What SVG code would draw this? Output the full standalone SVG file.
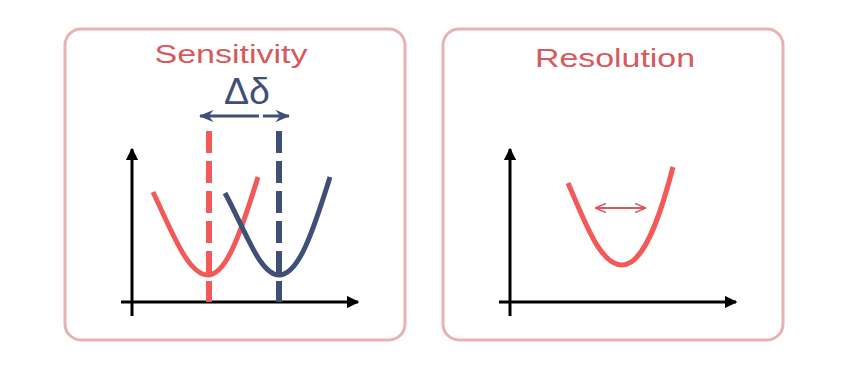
<svg xmlns="http://www.w3.org/2000/svg" width="850" height="371" viewBox="0 0 850 371">
<defs>
<style>
.box{fill:#fff;stroke:#e8b2b2;stroke-width:3}
.title{font-family:"Liberation Sans",Arial,sans-serif;font-size:26px;fill:#d9585c;text-anchor:middle}
.axis{stroke:#000;stroke-width:3;fill:none}
.red{stroke:#f25a5a;stroke-width:5;fill:none;stroke-linecap:butt}
.blue{stroke:#3f5076;stroke-width:5;fill:none}
.dash{stroke-width:6;stroke-dasharray:22 8;fill:none}
</style>
<marker id="ax" viewBox="0 0 10 10" refX="9" refY="5" markerWidth="4.2" markerHeight="4.2" orient="auto-start-reverse" markerUnits="strokeWidth">
<path d="M0,0 L10,5 L0,10 z" fill="#000"/>
</marker>
<marker id="bl" viewBox="0 0 12 10" refX="11" refY="5" markerWidth="5" markerHeight="4.2" orient="auto-start-reverse" markerUnits="strokeWidth">
<path d="M0,0 L12,5 L0,10 L4,5 z" fill="#3f5076"/>
</marker>
<marker id="rd" viewBox="0 0 12 10" refX="11" refY="5" markerWidth="5.5" markerHeight="5" orient="auto-start-reverse" markerUnits="strokeWidth">
<path d="M0,0 L12,5 L0,10" fill="none" stroke="#d9585c" stroke-width="1.6"/>
</marker>
</defs>
<rect width="850" height="371" fill="#fff"/>

<g id="sensitivity">
<rect class="box" x="65" y="29" width="340" height="311" rx="16"/>
<text class="title" x="231" y="63" textLength="153" lengthAdjust="spacingAndGlyphs">Sensitivity</text>
<text x="247" y="104" font-family="Liberation Sans,Arial,sans-serif" font-size="36" fill="#3f5076" text-anchor="middle" textLength="46" lengthAdjust="spacingAndGlyphs">Δδ</text>
<line x1="259" y1="116" x2="200" y2="116" stroke="#3f5076" stroke-width="3" marker-end="url(#bl)"/>
<line x1="263" y1="116" x2="289" y2="116" stroke="#3f5076" stroke-width="3" marker-end="url(#bl)"/>
<line class="axis" x1="132" y1="316" x2="132" y2="149" marker-end="url(#ax)"/>
<line class="axis" x1="121" y1="302" x2="358" y2="302" marker-end="url(#ax)"/>
<path class="red" d="M153,192 C172,232 188,275 208,275 C226,275 240,235 258,177"/>
<path class="blue" d="M225,193 C246,232 260,275 279,275 C298,275 312,235 330,177"/>
<line class="dash" x1="209" y1="131" x2="209" y2="302" stroke="#f25a5a"/>
<line class="dash" x1="279" y1="131" x2="279" y2="302" stroke="#3f5076"/>
</g>

<g id="resolution">
<rect class="box" x="443" y="29" width="340" height="311" rx="16"/>
<text class="title" x="615" y="67" textLength="160" lengthAdjust="spacingAndGlyphs">Resolution</text>
<line class="axis" x1="510" y1="316" x2="510" y2="149" marker-end="url(#ax)"/>
<line class="axis" x1="499" y1="302" x2="736" y2="302" marker-end="url(#ax)"/>
<path class="red" d="M568,183 C585,222 600,265 622,265 C642,265 658,225 673,167"/>
<line x1="596" y1="208" x2="645" y2="208" stroke="#d9585c" stroke-width="2" marker-start="url(#rd)" marker-end="url(#rd)"/>
</g>
</svg>
